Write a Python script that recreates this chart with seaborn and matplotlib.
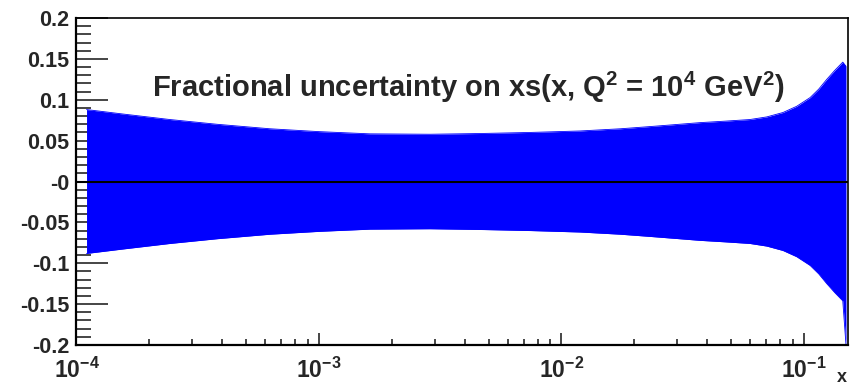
import numpy as np
import pandas as pd
import matplotlib
matplotlib.use("Agg")
import matplotlib.pyplot as plt
import seaborn as sns
from matplotlib.ticker import FixedLocator, NullFormatter, LogLocator

sns.set_style("white")
plt.rcParams['font.family'] = ['Liberation Sans', 'DejaVu Sans']
plt.rcParams['font.weight'] = 'bold'
plt.rcParams['mathtext.fontset'] = 'custom'
plt.rcParams['mathtext.rm'] = 'Liberation Sans:bold'
plt.rcParams['mathtext.bf'] = 'Liberation Sans:bold'
plt.rcParams['mathtext.it'] = 'Liberation Sans:bold'
plt.rcParams['mathtext.default'] = 'rm'

# Data
x_vals = [1.10e-4, 1.55e-4, 2.43e-4, 3.8e-4, 6.28e-4, 1.0e-3, 1.62e-3, 2.87e-3,
          4.61e-3, 7.4e-3, 1.19e-2, 1.75e-2, 2.32e-2, 3.0e-2, 3.72e-2, 4.71e-2,
          5.98e-2, 7.02e-2, 8.19e-2, 9.33e-2, 0.106, 0.115, 0.124, 0.134,
          0.1445, 0.149]
upper = [0.088, 0.0826, 0.0758, 0.070, 0.0645, 0.061, 0.0583, 0.0578,
         0.0587, 0.0600, 0.0618, 0.0645, 0.0672, 0.0698, 0.0720, 0.0738,
         0.0758, 0.0790, 0.0844, 0.0920, 0.1027, 0.1130, 0.1248, 0.1360,
         0.146, 0.141]
lower = [-0.088, -0.0826, -0.0758, -0.070, -0.0645, -0.061, -0.0583, -0.0578,
         -0.0587, -0.0600, -0.0618, -0.0645, -0.0672, -0.0698, -0.0720, -0.0738,
         -0.0758, -0.0790, -0.0844, -0.0920, -0.1027, -0.1130, -0.1248, -0.1360,
         -0.146, -0.200]

y_ticks = [-0.2, -0.15, -0.1, -0.05, 0.0, 0.05, 0.1, 0.15, 0.2]
y_tick_labels = ["-0.2", "-0.15", "-0.1", "-0.05", "-0", "0.05", "0.1", "0.15", "0.2"]
x_ticks = [1e-4, 1e-3, 1e-2, 1e-1]
x_tick_labels = [r"$\mathbf{10^{-4}}$", r"$\mathbf{10^{-3}}$", r"$\mathbf{10^{-2}}$", r"$\mathbf{10^{-1}}$"]
title = r"Fractional uncertainty on xs(x, Q$^{2}$ = 10$^{4}$ GeV$^{2}$)"

df = pd.DataFrame({"x": x_vals, "upper": upper, "lower": lower})

fig = plt.figure(figsize=(8.54, 3.87), dpi=100)
ax = fig.add_axes([76.5/854, 42/387, (848-76.5)/854, (345-18)/387])

blue = "#0000ff"
ax.fill_between(df["x"], df["lower"], df["upper"], color=blue, linewidth=0)
sns.lineplot(data=df, x="x", y="upper", ax=ax, color=blue, linewidth=0.6)
sns.lineplot(data=df, x="x", y="lower", ax=ax, color=blue, linewidth=0.6)
ax.axhline(0, color="black", linewidth=1.5)

ax.set_xscale("log")
ax.set_xlim(1e-4, 10**(-4 + (848-76.5)/242.5))
ax.set_ylim(-0.2, 0.2)

ax.set_xticks(x_ticks)
ax.set_xticklabels(x_tick_labels, fontsize=16.5)
ax.xaxis.set_minor_locator(LogLocator(base=10, subs=np.arange(2, 10)))
ax.xaxis.set_minor_formatter(NullFormatter())

ax.set_yticks(y_ticks)
ax.set_yticklabels(y_tick_labels, fontsize=15.5, fontweight='bold')
ax.yaxis.set_minor_locator(FixedLocator(np.round(np.arange(-0.2, 0.2001, 0.01), 3)))

ax.tick_params(axis='y', which='major', direction='in', length=23, width=1.2,
               left=True, right=False, pad=5)
ax.tick_params(axis='y', which='minor', direction='in', length=11, width=1.2,
               left=True, right=False)
ax.tick_params(axis='x', which='major', direction='in', length=9, width=1.2,
               bottom=True, top=False, pad=9)
ax.tick_params(axis='x', which='minor', direction='in', length=4.5, width=1.2,
               bottom=True, top=False)

ax.set_xlabel("")
ax.set_ylabel("")
for s in ax.spines.values():
    s.set_color("black")
    s.set_linewidth(1.2)
ax.spines['left'].set_linewidth(1.6)
ax.spines['bottom'].set_linewidth(1.6)

fig.text(151.7/854, (387-97.3)/387, title, fontsize=21, fontweight='bold',
         ha='left', va='baseline')
fig.text(842/854, 1/387, "x", fontsize=13, fontweight='bold', ha='center', va='bottom')

fig.savefig("out.png", dpi=100)
